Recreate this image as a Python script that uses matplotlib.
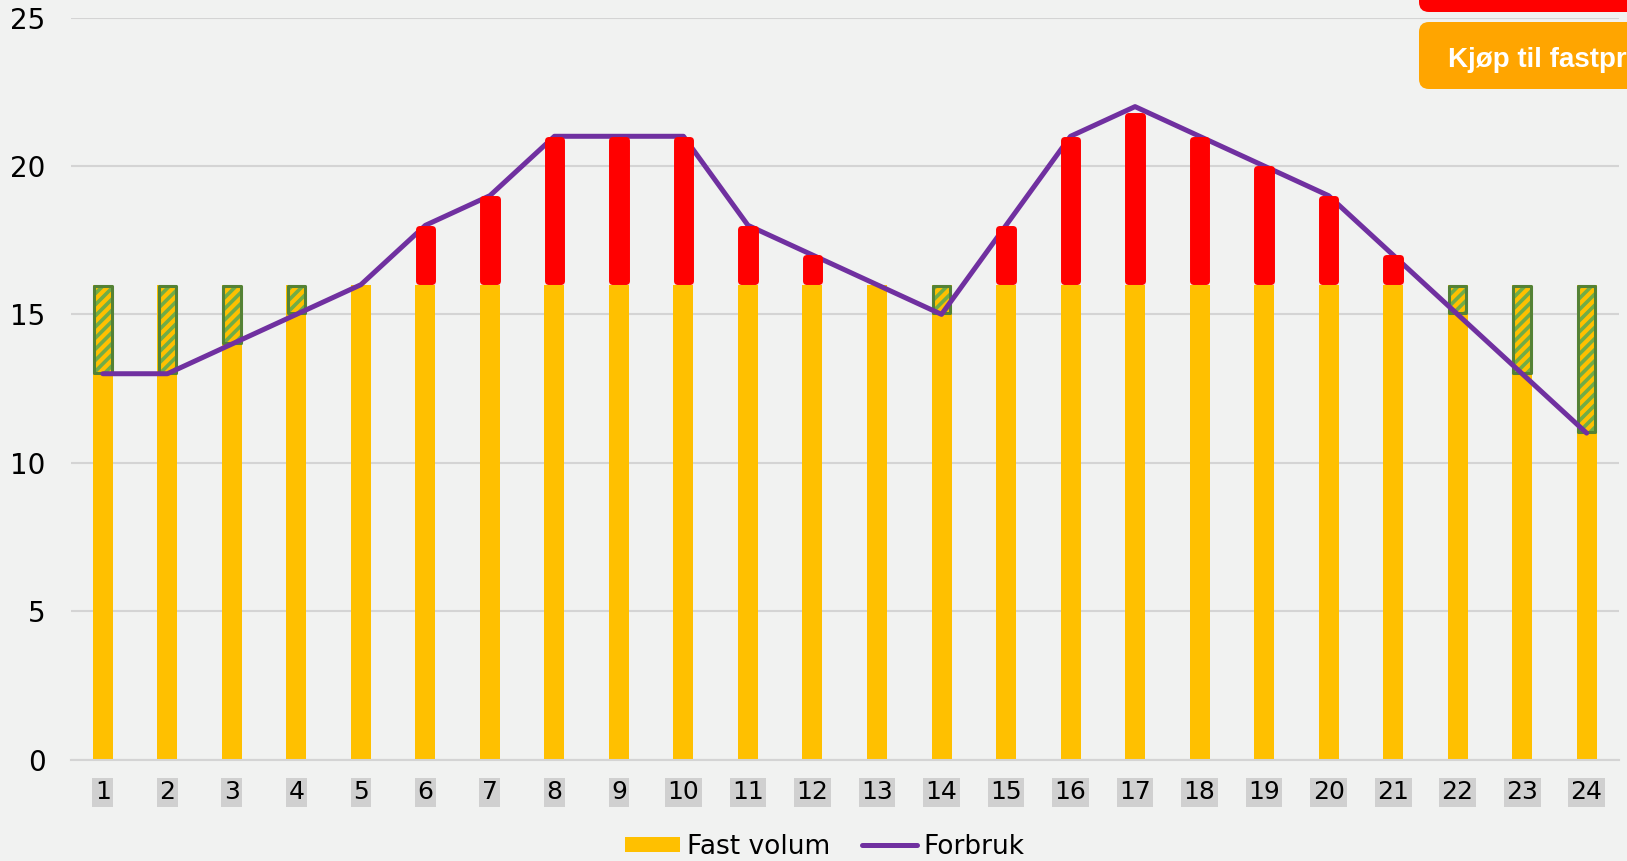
import matplotlib
matplotlib.use('Agg')

import matplotlib.pyplot as plt
from matplotlib.patches import FancyBboxPatch, Patch
from matplotlib.lines import Line2D
from matplotlib.transforms import IdentityTransform

# timer 1-24
timer = list(range(1, 25))
# forbruk per time
forbruk = [13, 13, 14, 15, 16, 18, 19, 21, 21, 21, 18, 17,
           16, 15, 18, 21, 22, 21, 20, 19, 17, 15, 13, 11]
# fast volum
fast = [16] * 24
# kjopt ekstra (rodt) topp, les av bildet
ekstra_topp = [0, 0, 0, 0, 0, 18, 19, 21, 21, 21, 18, 17,
               0, 0, 18, 21, 21.8, 21, 20, 19, 17, 0, 0, 0]

bg = '#F1F2F1'
gul = '#FFC000'
rod = '#FF0000'
lilla = '#7030A0'
gronn_kant = '#548235'
gronn_skravur = '#70AD47'

plt.rcParams['font.family'] = ['DejaVu Sans']
plt.rcParams['hatch.linewidth'] = 2.6

fig = plt.figure(figsize=(16.27, 8.61), dpi=100)
fig.patch.set_facecolor(bg)
ax = fig.add_axes([0.0434, 0.1178, 0.9516, 0.8618])
ax.set_facecolor(bg)

# fast volum
ax.bar(timer, fast, width=0.31, color=gul, zorder=2)

# under forbruk -> skravert
for t, f, v in zip(timer, fast, forbruk):
    if v < f:
        ax.bar(t, f - v - 0.06, bottom=v + 0.03, width=0.27, color=gul,
               edgecolor=gronn_skravur, hatch='///', linewidth=0, zorder=3)
        ax.bar(t, f - v - 0.06, bottom=v + 0.03, width=0.27, fill=False,
               edgecolor=gronn_kant, linewidth=2.2, joinstyle='round', zorder=3.5)

# forbruk linje
ax.plot(timer, forbruk, color=lilla, lw=3.6, solid_capstyle='round', zorder=4)

# over fast volum -> rodt
for t, f, v in zip(timer, fast, ekstra_topp):
    if v > f:
        ax.bar(t, v - f - 0.22, bottom=f + 0.11, width=0.21, color=rod,
               edgecolor=rod, linewidth=5, joinstyle='round', zorder=5)

ax.set_xlim(0.5, 24.5)
ax.set_ylim(0, 25)
ax.set_yticks([0, 5, 10, 15, 20, 25])
ax.set_xticks(timer)
ax.grid(axis='y', color='#D4D4D4', lw=1.5, zorder=0)
ax.set_axisbelow(True)
for s in ['top', 'right', 'left']:
    ax.spines[s].set_visible(False)
ax.spines['bottom'].set_color('#D4D4D4')
ax.spines['bottom'].set_linewidth(1.5)
ax.tick_params(axis='both', length=0)
ax.tick_params(axis='y', labelsize=20, pad=18)
ax.tick_params(axis='x', labelsize=18, pad=15)
for lab in ax.get_xticklabels():
    lab.set_bbox(dict(boxstyle='square,pad=0.1', facecolor='#D0D0D0', edgecolor='none'))

handles = [Patch(facecolor=gul, edgecolor='none'),
           Line2D([0], [0], color=lilla, lw=3.6, solid_capstyle='round')]
fig.legend(handles, ['Fast volum', 'Forbruk'], loc='center', bbox_to_anchor=(0.507, 0.0165),
           ncol=2, frameon=False, fontsize=19, handlelength=2.1, handleheight=0.55,
           handletextpad=0.25, columnspacing=1.2)

# knapper oppe til hoyre
fig.add_artist(FancyBboxPatch((1419, 849), 400, 60, boxstyle='round,pad=0,rounding_size=10',
                              transform=IdentityTransform(), facecolor=rod, edgecolor='none'))
fig.add_artist(FancyBboxPatch((1419, 772), 400, 67, boxstyle='round,pad=0,rounding_size=10',
                              transform=IdentityTransform(), facecolor='#FFA500', edgecolor='none'))
fig.text(1448 / 1627, (861 - 67) / 861, 'Kjøp til fastpris', color='white', fontsize=20,
         fontweight='bold', family=['Liberation Sans', 'DejaVu Sans'], va='baseline', ha='left')

fig.savefig('out.png', dpi=100, facecolor=bg)
